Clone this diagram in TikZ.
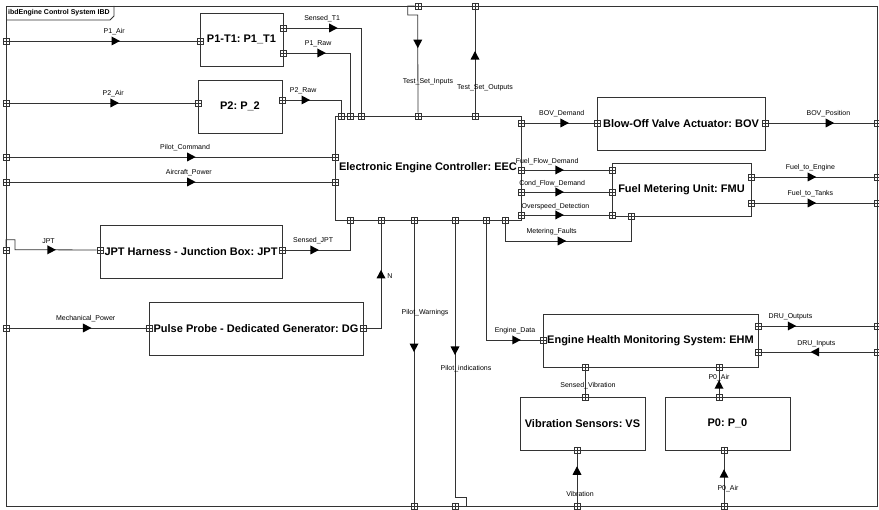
\documentclass[tikz,border=0pt]{standalone}
\usepackage{fontspec}
\setmainfont{Liberation Sans}
\usetikzlibrary{shapes.geometric,calc}
\frenchspacing

\tikzset{
  frame/.style={draw=black!80, line width=0.8pt, inner sep=0pt, anchor=north west,
    minimum width=871pt, minimum height=500pt},
  block/.style={draw=black!80, line width=0.8pt, fill=white, inner sep=2pt,
    font=\fontsize{11}{13}\selectfont\bfseries},
  port/.style={draw=black!80, line width=0.6pt, fill=white, inner sep=0pt, minimum size=6pt,
    path picture={\draw[line width=0.4pt] (path picture bounding box.north) -- (path picture bounding box.south)
      (path picture bounding box.west) -- (path picture bounding box.east);}},
  conn/.style={draw=black!80, line width=0.8pt},
  flow/.style={isosceles triangle, isosceles triangle stretches, fill=black, inner sep=0pt,
    minimum width=9pt, minimum height=8.5pt, sloped, allow upside down},
  lbl/.style={font=\fontsize{7}{8}\selectfont, inner sep=1pt},
}

\begin{document}
\begin{tikzpicture}[x=1pt,y=-1pt]
  \useasboundingbox (0,0) rectangle (879,510);
  \node[frame] (ibd) at (6,6) {};
  \draw[conn] (6,20) -- (110,20) -- (114,16) -- (114,6);
  \node[font=\fontsize{7}{8}\selectfont\bfseries, anchor=west, inner sep=0pt] (title) at (8,13) {ibdEngine Control System IBD};

  % parts
  \node[block, minimum width=83pt, minimum height=53pt] (p1t1) at (241.5,39.5) {P1-T1: P1\_T1};
  \node[block, minimum width=84pt, minimum height=53pt] (p2) at (240,106.5) {P2: P\_2};
  \node[block, minimum width=186pt, minimum height=104pt] (eec) at (428,168) {Electronic Engine Controller: EEC};
  \node[block, minimum width=168pt, minimum height=53pt] (bov) at (681,123.5) {Blow-Off Valve Actuator: BOV};
  \node[block, minimum width=139pt, minimum height=53pt] (fmu) at (681.5,189.5) {Fuel Metering Unit: FMU};
  \node[block, minimum width=182pt, minimum height=53pt] (jpt) at (191,251.5) {JPT Harness - Junction Box: JPT};
  \node[block, minimum width=214pt, minimum height=53pt] (dg) at (256,328.5) {Pulse Probe - Dedicated Generator: DG};
  \node[block, minimum width=215pt, minimum height=53pt] (ehm) at (650.5,340.5) {Engine Health Monitoring System: EHM};
  \node[block, minimum width=125pt, minimum height=53pt] (vs) at (582.5,423.5) {Vibration Sensors: VS};
  \node[block, minimum width=125pt, minimum height=53pt] (p0) at (727.5,423.5) {P0: P\_0};

  % ports
  \foreach \n/\x/\y in {fl1/6/41, fl2/6/103, fl3/6/157, fl4/6/182, fl5/6/250, fl6/6/328,
      fr1/877/123, fr2/877/177, fr3/877/203, fr4/877/326, fr5/877/352,
      ft1/418/6, ft2/475/6, fb1/414/506, fb2/455/506, fb3/577/506, fb4/724/506,
      p1In/200/41, p1OutA/283/28, p1OutB/283/53, p2In/198/103, p2Out/282/100,
      eT1/341/116, eT2/350/116, eT3/361/116, eT4/418/116, eT5/475/116,
      eL1/335/157, eL2/335/182, eR1/521/123, eR2/521/170, eR3/521/192, eR4/521/215,
      eB1/350/220, eB2/381/220, eB3/414/220, eB4/455/220, eB5/486/220, eB6/505/220,
      bIn/597/123, bOut/765/123,
      uIn1/612/170, uIn2/612/192, uIn3/612/215, uOut1/751/177, uOut2/751/203, uB/631/216,
      jIn/100/250, jOut/282/250, gIn/149/328, gOut/363/328,
      hIn/543/340, hOut1/758/326, hOut2/758/352, hB1/585/367, hB2/719/367,
      vT/585/397, vB/577/450, p0T/719/397, p0B/724/450}
    \node[port] (\n) at (\x,\y) {};

  % item flows
  \draw[conn] (fl1) -- node[flow,pos=.56]{} node[lbl,above=5pt,pos=.56]{P1\_Air} (p1In);
  \draw[conn] (fl2) -- node[flow,pos=.56]{} node[lbl,above=5pt,pos=.56]{P2\_Air} (p2In);
  \draw[conn] (p1OutA) -- node[flow,pos=.61]{} node[lbl,above=5pt,pos=.48]{Sensed\_T1} (p1OutA -| eT3) -- (eT3);
  \draw[conn] (p1OutB) -- node[flow,pos=.53]{} node[lbl,above=5pt,pos=.5]{P1\_Raw} (p1OutB -| eT2) -- (eT2);
  \draw[conn] (p2Out) -- node[flow,pos=.34]{} node[lbl,above=5pt,pos=.32]{P2\_Raw} (p2Out -| eT1) -- (eT1);
  \draw[conn] (fl3) -- node[flow,pos=.56]{} node[lbl,above=5pt,pos=.545]{Pilot\_Command} (eL1);
  \draw[conn] (fl4) -- node[flow,pos=.56]{} node[lbl,above=5pt,pos=.557]{Aircraft\_Power} (eL2);
  \draw[conn] (fl5.north) -- ++(0,-7) -- ++(9,0) -- ++(0,10) -- node[flow,pos=.43]{} node[lbl,above=5pt,pos=.41]{JPT} (jIn);
  \draw[conn] (jOut) -- node[flow,pos=.43]{} node[lbl,above=5pt,pos=.43]{Sensed\_JPT} (jOut -| eB1) -- (eB1);
  \draw[conn] (fl6) -- node[flow,pos=.56]{} node[lbl,above=5pt,pos=.56]{Mechanical\_Power} (gIn);
  \draw[conn] (gOut) -- (gOut -| eB2) -- node[flow,pos=.5]{} node[lbl,right=5pt,pos=.5]{N} (eB2);
  \draw[conn] (ft1.west) -- ++(-7,0) -- ++(0,9) -- ++(10,0) -- node[flow,pos=.28]{} node[lbl,pos=.68,xshift=10pt]{Test\_Set\_Inputs} (eT4);
  \draw[conn] (eT5) -- node[flow,pos=.54]{} node[lbl,pos=.24,xshift=10pt]{Test\_Set\_Outputs} (ft2);
  \draw[conn] (eR1) -- node[flow,pos=.56]{} node[lbl,above=5pt,pos=.54]{BOV\_Demand} (bIn);
  \draw[conn] (bOut) -- node[flow,pos=.57]{} node[lbl,above=5pt,pos=.57]{BOV\_Position} (fr1);
  \draw[conn] (eR2) -- node[flow,pos=.4]{} node[lbl,above=4pt,pos=.27]{Fuel\_Flow\_Demand} (uIn1);
  \draw[conn] (eR3) -- node[flow,pos=.4]{} node[lbl,above=4pt,pos=.33]{Cond\_Flow\_Demand} (uIn2);
  \draw[conn] (eR4) -- node[flow,pos=.4]{} node[lbl,above=4pt,pos=.37]{Overspeed\_Detection} (uIn3);
  \draw[conn] (eB6) -- ++(0,21) -- node[flow,pos=.44]{} node[lbl,above=5pt,pos=.37]{Metering\_Faults} ++(126,0) -- (uB);
  \draw[conn] (uOut1) -- node[flow,pos=.47]{} node[lbl,above=5pt,pos=.47]{Fuel\_to\_Engine} (fr2);
  \draw[conn] (uOut2) -- node[flow,pos=.47]{} node[lbl,above=5pt,pos=.47]{Fuel\_to\_Tanks} (fr3);
  \draw[conn] (eB3) -- node[flow,pos=.44]{} node[lbl,pos=.32,xshift=11pt]{Pilot\_Warnings} (fb1);
  \draw[conn] (eB4) -- node[flow,pos=.46]{} node[lbl,pos=.53,xshift=11pt]{Pilot\_indications} ([yshift=9pt]fb2.center) -- ++(11,0) -- ++(0,9);
  \draw[conn] (eB5) -- (eB5 |- hIn) -- node[flow,pos=.54]{} node[lbl,above=5pt,pos=.54]{Engine\_Data} (hIn);
  \draw[conn] (hOut1) -- node[flow,pos=.26]{} node[lbl,above=5pt,pos=.26]{DRU\_Outputs} (fr4);
  \draw[conn] (fr5) -- node[flow,pos=.51]{} node[lbl,above=4pt,pos=.51]{DRU\_Inputs} (hOut2);
  \draw[conn] (hB1) -- node[lbl,pos=.67,xshift=3pt]{Sensed\_Vibration} (vT);
  \draw[conn] (p0T) -- node[flow,pos=.33]{} node[lbl,pos=.7]{P0\_Air} (hB2);
  \draw[conn] (fb3) -- node[flow,pos=.62]{} node[lbl,pos=.18,xshift=3pt]{Vibration} (vB);
  \draw[conn] (fb4) -- node[flow,pos=.56]{} node[lbl,pos=.28,xshift=4pt]{P0\_Air} (p0B);
\end{tikzpicture}
\end{document}
